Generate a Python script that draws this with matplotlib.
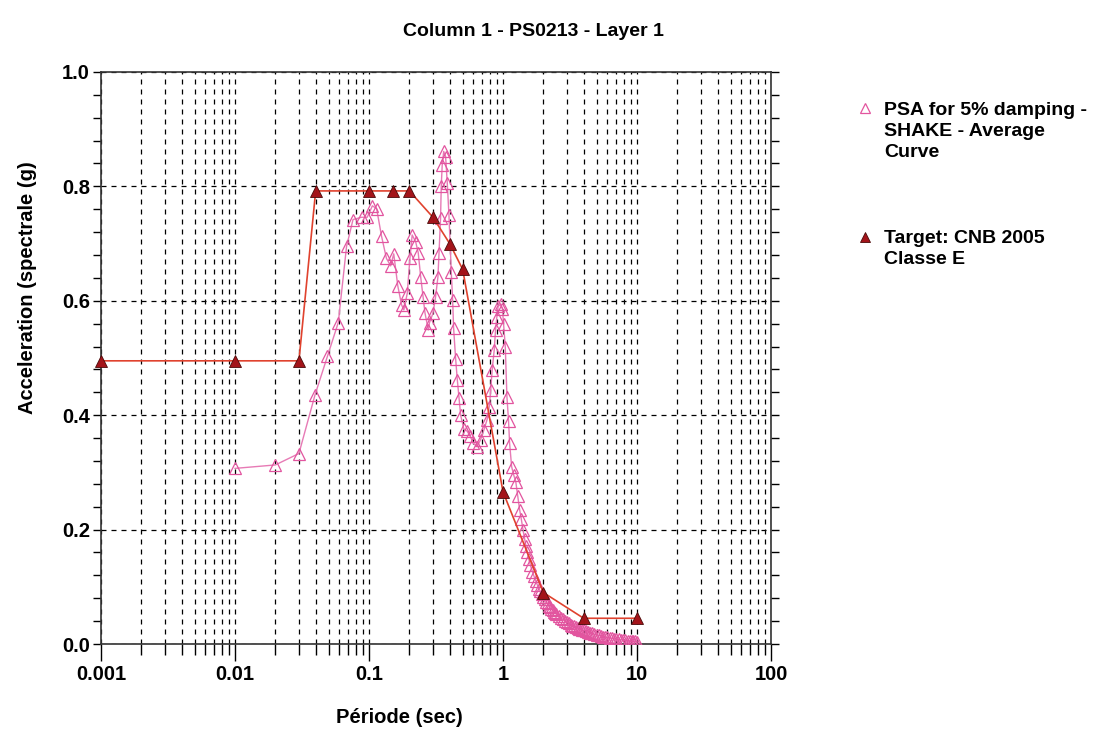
import matplotlib
matplotlib.use("Agg")
import matplotlib.pyplot as plt
from matplotlib.ticker import FixedLocator, LogLocator, NullFormatter, MultipleLocator

plt.rcParams['font.family'] = ['Liberation Sans', 'DejaVu Sans']
plt.rcParams['font.weight'] = 'bold'

# Target spectrum: CNB 2005 Classe E
target_period = [0.001, 0.01, 0.03, 0.04, 0.1, 0.15, 0.2, 0.3, 0.4, 0.5, 1.0, 2.0, 4.0, 10.0]
target_acc = [0.495, 0.495, 0.495, 0.792, 0.792, 0.792, 0.792, 0.746, 0.700, 0.655, 0.266, 0.090, 0.045, 0.045]

# PSA for 5% damping - SHAKE - average curve
psa_period = [0.010, 0.020, 0.030, 0.0395, 0.049, 0.059, 0.068, 0.076, 0.088, 0.097,
              0.106, 0.114, 0.124, 0.135, 0.145, 0.153, 0.164, 0.175, 0.182, 0.193,
              0.202, 0.210, 0.223, 0.233, 0.243, 0.253, 0.262, 0.277, 0.283, 0.300,
              0.314, 0.327, 0.333, 0.342, 0.346, 0.352, 0.361, 0.373, 0.384, 0.395,
              0.411, 0.421, 0.428, 0.443, 0.456, 0.470, 0.483, 0.510, 0.540, 0.570,
              0.600, 0.640, 0.680, 0.720, 0.760, 0.790, 0.810, 0.830, 0.860, 0.880,
              0.900, 0.920, 0.960, 0.990, 1.010, 1.040, 1.070, 1.100, 1.120, 1.160,
              1.200, 1.245, 1.290, 1.330, 1.370, 1.410, 1.450, 1.480, 1.520, 1.560,
              1.600, 1.660, 1.700, 1.750, 1.800, 1.850, 1.900, 1.950, 2.000, 2.050,
              2.100, 2.150, 2.200, 2.250, 2.300, 2.350, 2.400, 2.450, 2.500, 2.600,
              2.700, 2.800, 2.900, 3.000, 3.100, 3.200, 3.300, 3.400, 3.500, 3.600,
              3.700, 3.800, 3.900, 4.000, 4.150, 4.300, 4.450, 4.600, 4.800, 5.000,
              5.200, 5.400, 5.600, 5.800, 6.000, 6.250, 6.500, 6.750, 7.000, 7.300,
              7.600, 7.900, 8.200, 8.500, 8.800, 9.100, 9.400, 9.700, 10.00]
psa_acc = [0.307, 0.313, 0.333, 0.435, 0.503, 0.562, 0.695, 0.742, 0.746, 0.746,
           0.766, 0.761, 0.713, 0.674, 0.661, 0.682, 0.626, 0.593, 0.584, 0.613,
           0.674, 0.715, 0.703, 0.684, 0.642, 0.607, 0.578, 0.549, 0.562, 0.578,
           0.607, 0.642, 0.684, 0.744, 0.800, 0.838, 0.861, 0.852, 0.805, 0.750,
           0.651, 0.601, 0.552, 0.499, 0.462, 0.430, 0.400, 0.376, 0.372, 0.363,
           0.351, 0.345, 0.357, 0.374, 0.392, 0.415, 0.444, 0.479, 0.514, 0.549,
           0.572, 0.590, 0.594, 0.586, 0.560, 0.520, 0.432, 0.390, 0.351, 0.310,
           0.296, 0.284, 0.258, 0.235, 0.218, 0.200, 0.184, 0.172, 0.160, 0.148,
           0.138, 0.126, 0.119, 0.111, 0.104, 0.097, 0.092, 0.087, 0.082, 0.078,
           0.074, 0.071, 0.067, 0.064, 0.061, 0.059, 0.056, 0.054, 0.052, 0.049,
           0.046, 0.043, 0.041, 0.038, 0.036, 0.034, 0.032, 0.031, 0.029, 0.028,
           0.027, 0.026, 0.025, 0.024, 0.022, 0.021, 0.020, 0.019, 0.017, 0.016,
           0.015, 0.014, 0.013, 0.012, 0.0115, 0.011, 0.010, 0.009, 0.0085, 0.008,
           0.0075, 0.007, 0.0065, 0.006, 0.0055, 0.005, 0.0047, 0.0044, 0.004]

x_ticks = [0.001, 0.01, 0.1, 1, 10, 100]
x_ticklabels = ['0.001', '0.01', '0.1', '1', '10', '100']
y_ticks = [0.0, 0.2, 0.4, 0.6, 0.8, 1.0]
y_ticklabels = ['0.0', '0.2', '0.4', '0.6', '0.8', '1.0']

fig = plt.figure(figsize=(10.93, 7.31), dpi=100)
ax = fig.add_axes([0.0924, 0.119, 0.6130, 0.7826])

psa_color = '#e2559f'
ax.plot(psa_period, psa_acc, color='#e77ab5', lw=1.0, marker='^', markersize=8,
        markerfacecolor='none', markeredgecolor=psa_color, markeredgewidth=0.9, zorder=3)
ax.plot(target_period, target_acc, color='#e0422e', lw=1.2, marker='^', markersize=9,
        markerfacecolor='#a3141a', markeredgecolor='#4a0a0a', markeredgewidth=0.6,
        zorder=4, clip_on=False)

ax.set_xscale('log')
ax.set_xlim(0.001, 100)
ax.set_ylim(0, 1.0)
ax.xaxis.set_major_locator(FixedLocator(x_ticks))
ax.set_xticklabels(x_ticklabels)
ax.xaxis.set_minor_locator(LogLocator(base=10, subs=range(2, 10)))
ax.xaxis.set_minor_formatter(NullFormatter())
ax.set_yticks(y_ticks)
ax.set_yticklabels(y_ticklabels)
ax.yaxis.set_minor_locator(MultipleLocator(0.04))

ax.grid(True, which='both', axis='x', color='black', linestyle=(0, (4, 4)), linewidth=0.9)
ax.grid(True, which='major', axis='y', color='black', linestyle=(0, (4, 4)), linewidth=0.9)
ax.set_axisbelow(True)

ax.tick_params(axis='x', which='major', direction='out', length=12, width=1, labelsize=14.5, pad=3)
ax.tick_params(axis='x', which='minor', direction='out', length=8, width=1)
ax.tick_params(axis='y', which='both', direction='out', length=6, width=1, right=True)
ax.tick_params(axis='y', which='major', labelsize=14.5, pad=2)
for lab in ax.get_xticklabels() + ax.get_yticklabels():
    lab.set_fontweight('bold')

for s in ax.spines.values():
    s.set_linewidth(1.2)
    s.set_color('#333333')

fig.text(0.488, 0.957, 'Column 1 - PS0213 - Layer 1', ha='center', va='center',
         fontsize=14, fontweight='bold')
fig.text(0.365, 0.019, 'Période (sec)', ha='center', va='center', fontsize=14.5, fontweight='bold')
fig.text(0.025, 0.606, 'Acceleration (spectrale (g)', ha='center', va='center',
         rotation=90, fontsize=14.5, fontweight='bold')

# legend drawn by hand to match the layout
fig.lines.append(plt.Line2D([0.791], [0.852], transform=fig.transFigure, marker='^',
                            markersize=7, markerfacecolor='none', markeredgecolor=psa_color,
                            markeredgewidth=0.9, linestyle='none'))
fig.text(0.809, 0.860, 'PSA for 5% damping -\nSHAKE - Average\nCurve', ha='left', va='top',
         fontsize=14, fontweight='bold', linespacing=1.3, transform=fig.transFigure)
fig.lines.append(plt.Line2D([0.791], [0.676], transform=fig.transFigure, marker='^',
                            markersize=7, markerfacecolor='#a3141a', markeredgecolor='#4a0a0a',
                            markeredgewidth=0.6, linestyle='none'))
fig.text(0.809, 0.685, 'Target: CNB 2005\nClasse E', ha='left', va='top',
         fontsize=14, fontweight='bold', linespacing=1.3, transform=fig.transFigure)

fig.savefig('out.png', dpi=100)
